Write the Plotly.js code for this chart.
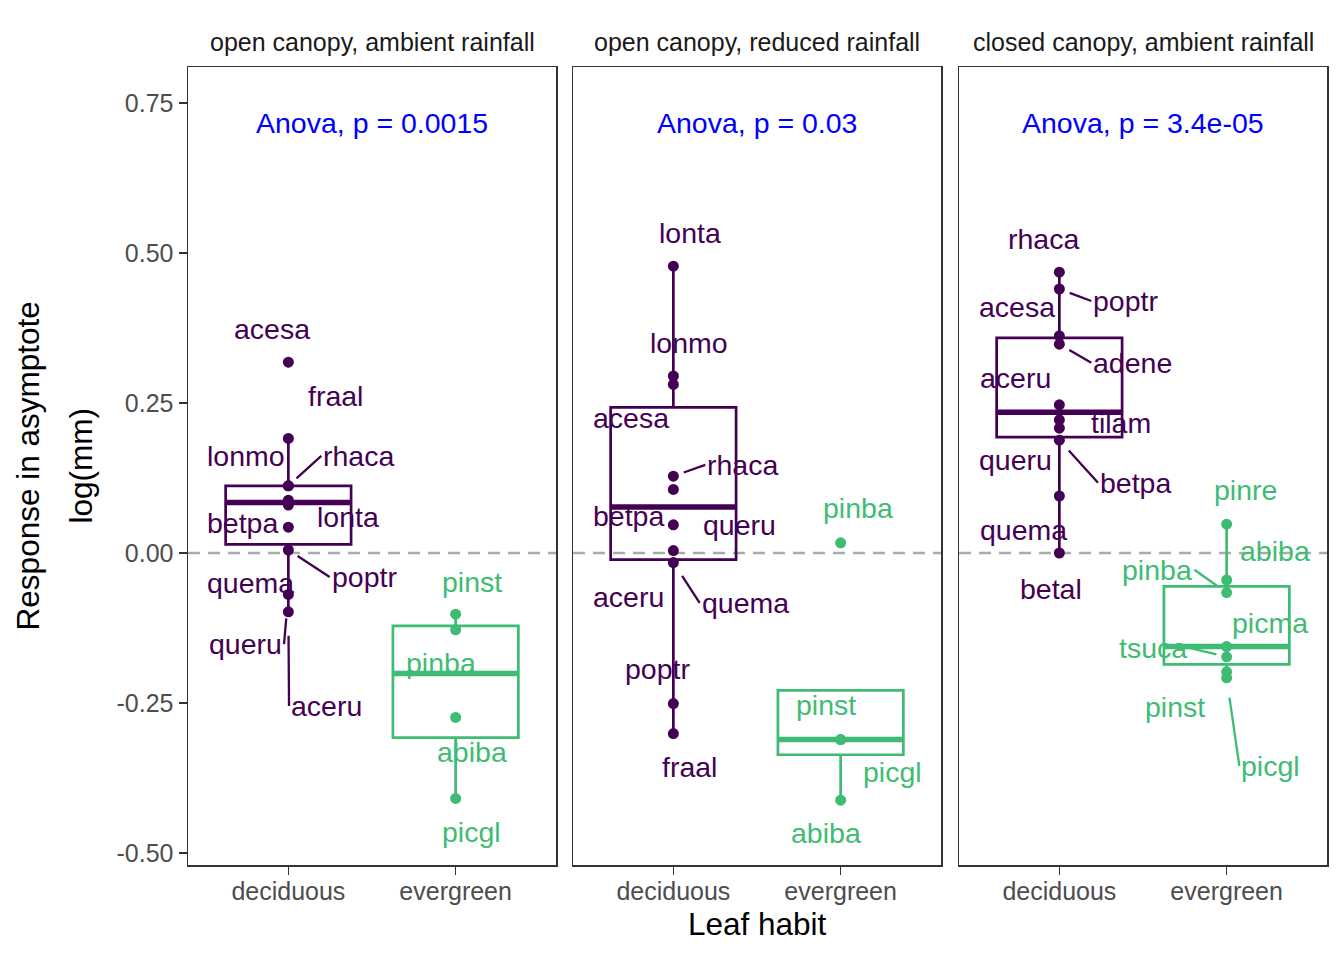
<!DOCTYPE html>
<html><head><meta charset="utf-8">
<script src="https://cdn.plot.ly/plotly-3.0.1.min.js"></script>
<style>html,body{margin:0;padding:0;background:#fff}</style>
</head><body><div id="chart" style="width:1344px;height:960px"></div>
<script>
// ---------------- data ----------------
const categories = ['deciduous', 'evergreen'];
const facets = ['open canopy, ambient rainfall', 'open canopy, reduced rainfall', 'closed canopy, ambient rainfall'];
const anovaLabels = ['Anova, p = 0.0015', 'Anova, p = 0.03', 'Anova, p = 3.4e-05'];
const yTickVals = [-0.5, -0.25, 0, 0.25, 0.5, 0.75];
const yTickText = ['-0.50', '-0.25', '0.00', '0.25', '0.50', '0.75'];

// facet 1: open canopy, ambient rainfall
const f1DecSpecies = ['acesa', 'fraal', 'lonmo', 'rhaca', 'lonta', 'betpa', 'quema', 'poptr', 'queru', 'aceru'];
const f1DecValues  = [0.318, 0.191, 0.112, 0.112, 0.088, 0.080, 0.043, 0.005, -0.069, -0.098];
const f1EvgSpecies = ['pinst', 'pinba', 'abiba', 'picgl'];
const f1EvgValues  = [-0.102, -0.128, -0.274, -0.409];

// facet 2: open canopy, reduced rainfall
const f2DecSpecies = ['lonta', 'lonmo', 'acesa', 'rhaca', 'queru', 'betpa', 'aceru', 'quema', 'poptr', 'fraal'];
const f2DecValues  = [0.478, 0.295, 0.281, 0.128, 0.106, 0.047, 0.004, -0.016, -0.251, -0.301];
const f2EvgSpecies = ['pinba', 'pinst', 'picgl', 'abiba'];
const f2EvgValues  = [0.017, -0.311, -0.311, -0.412];

// facet 3: closed canopy, ambient rainfall
const f3DecSpecies = ['rhaca', 'poptr', 'acesa', 'adene', 'aceru', 'tilam', 'queru', 'betpa', 'quema', 'betal'];
const f3DecValues  = [0.468, 0.440, 0.362, 0.348, 0.247, 0.222, 0.208, 0.188, 0.095, 0.000];
const f3EvgSpecies = ['pinre', 'abiba', 'pinba', 'picma', 'tsuca', 'pinst', 'picgl'];
const f3EvgValues  = [0.048, -0.045, -0.066, -0.156, -0.173, -0.198, -0.208];

// ---------------- label placement (repelled positions, data units) ----------------
// plain labels: [centre x, centre y]
// labels with a leader segment: [segment-start x, centre y, side of text ('left' = text to the right), standoff px]
const repel = [
  {
    deciduous: {acesa:[0.903,0.373], fraal:[1.284,0.262], lonmo:[0.749,0.162], rhaca:[1.197,0.162,'left',11],
                betpa:[0.723,0.050], lonta:[1.356,0.060], poptr:[1.247,-0.040,'left',11], quema:[0.773,-0.050],
                queru:[0.974,-0.152,'right',24], aceru:[1.004,-0.255,'left',24]},
    evergreen: {pinst:[2.100,-0.048], pinba:[1.912,-0.183], abiba:[2.098,-0.332], picgl:[2.094,-0.465]}
  },
  {
    deciduous: {lonta:[1.099,0.533], lonmo:[1.096,0.350], acesa:[0.749,0.225], rhaca:[1.191,0.147,'left',11],
                betpa:[0.731,0.062], queru:[1.393,0.047], aceru:[0.733,-0.073], quema:[1.157,-0.083,'left',16],
                poptr:[0.907,-0.193], fraal:[1.094,-0.357]},
    evergreen: {pinba:[2.104,0.075], pinst:[1.914,-0.253], picgl:[2.311,-0.365], abiba:[1.911,-0.467]}
  },
  {
    deciduous: {rhaca:[0.906,0.523], acesa:[0.749,0.410], poptr:[1.191,0.420,'left',11], adene:[1.191,0.317,'left',11.5],
                aceru:[0.736,0.292], tilam:[1.370,0.217], queru:[0.737,0.155], betpa:[1.231,0.117,'left',14],
                quema:[0.784,0.038], betal:[0.949,-0.060]},
    evergreen: {pinre:[2.110,0.105], abiba:[2.290,0.003], pinba:[1.807,-0.028,'right',11], picma:[2.260,-0.117],
                tsuca:[1.777,-0.158,'right',10.5], pinst:[1.694,-0.257], picgl:[2.076,-0.355,'left',20]}
  }
];

const panels = [
  {species: [f1DecSpecies, f1EvgSpecies], values: [f1DecValues, f1EvgValues]},
  {species: [f2DecSpecies, f2EvgSpecies], values: [f2DecValues, f2EvgValues]},
  {species: [f3DecSpecies, f3EvgSpecies], values: [f3DecValues, f3EvgValues]}
];

// ---------------- styles ----------------
const colors = ['#440154', '#3FBC73'];
const FONT = 'Liberation Sans, Arial, Helvetica, sans-serif';
const BORDER = '#333333';
const boxWidth = 0.75;

// type-7 quantile (as in R / ggplot2)
function quantile(sorted, p) {
  const h = (sorted.length - 1) * p;
  const lo = Math.floor(h), hi = Math.ceil(h);
  return sorted[lo] + (h - lo) * (sorted[hi] - sorted[lo]);
}
function boxStats(vals) {
  const s = vals.slice().sort((a, b) => a - b);
  const q1 = quantile(s, 0.25), med = quantile(s, 0.5), q3 = quantile(s, 0.75);
  const iqr = q3 - q1;
  const inside = s.filter(v => v >= q1 - 1.5 * iqr && v <= q3 + 1.5 * iqr);
  return {q1, med, q3, lo: Math.min(q1, inside[0]), hi: Math.max(q3, inside[inside.length - 1])};
}

const pw = 1139, ph = 798;
const domains = [[0, 368 / pw], [385 / pw, 753 / pw], [771 / pw, 1]];

const traces = [];
const annotations = [];
const shapes = [];
const layout = {
  width: 1344, height: 960, autosize: false,
  margin: {l: 188, r: 17, t: 67, b: 95},
  paper_bgcolor: '#ffffff', plot_bgcolor: '#ffffff',
  showlegend: false,
  font: {family: FONT},
  hovermode: false
};

panels.forEach((panel, k) => {
  const s = k === 0 ? '' : String(k + 1);
  const xa = 'x' + s, ya = 'y' + s;
  layout['xaxis' + s] = {
    domain: domains[k], range: [0.4, 2.6], anchor: ya,
    tickvals: [1, 2], ticktext: categories,
    showline: true, mirror: true, linecolor: BORDER, linewidth: 1.5,
    ticks: 'outside', ticklen: 8, tickcolor: BORDER, tickwidth: 1.5,
    ticklabelstandoff: -5,
    showgrid: false, zeroline: false,
    tickfont: {family: FONT, size: 25, color: '#4d4d4d'}
  };
  layout['yaxis' + s] = {
    domain: [0, 1], range: [-0.52, 0.81], anchor: xa,
    tickvals: yTickVals, ticktext: yTickText,
    showline: true, mirror: true, linecolor: BORDER, linewidth: 1.5,
    ticks: k === 0 ? 'outside' : '', ticklen: 8, tickcolor: BORDER, tickwidth: 1.5,
    showticklabels: k === 0,
    showgrid: false, zeroline: false,
    tickfont: {family: FONT, size: 25, color: '#4d4d4d'}
  };
  if (k > 0) layout['yaxis' + s].matches = 'y';

  shapes.push({type: 'line', xref: xa + ' domain', yref: ya, x0: 0, x1: 1, y0: 0, y1: 0,
               line: {color: '#aaaaaa', width: 2.5, dash: '12px,8px'}, layer: 'below'});

  panel.values.forEach((vals, c) => {
    const pos = c + 1;
    const st = boxStats(vals);
    traces.push({
      type: 'box', x: [pos], q1: [st.q1], median: [st.med], q3: [st.q3],
      lowerfence: [st.lo], upperfence: [st.hi], width: boxWidth, whiskerwidth: 0,
      line: {color: colors[c], width: 2.7}, fillcolor: 'rgba(0,0,0,0)',
      boxpoints: false, xaxis: xa, yaxis: ya, hoverinfo: 'skip'
    });
    traces.push({
      type: 'scatter', mode: 'lines', x: [pos - boxWidth / 2, pos + boxWidth / 2], y: [st.med, st.med],
      line: {color: colors[c], width: 5.5}, xaxis: xa, yaxis: ya, hoverinfo: 'skip'
    });
    traces.push({
      type: 'scatter', mode: 'markers', x: vals.map(() => pos), y: vals,
      marker: {color: colors[c], size: 11}, xaxis: xa, yaxis: ya, hoverinfo: 'skip'
    });
    const names = panel.species[c];
    const lay = repel[k][categories[c]];
    names.forEach((nm, i) => {
      const L = lay[nm];
      const base = {text: nm, font: {family: FONT, size: 28.5, color: colors[c]}, xref: xa, yref: ya};
      if (L.length > 2) {
        annotations.push(Object.assign(base, {
          x: pos, y: vals[i], ax: L[0], ay: L[1], axref: xa, ayref: ya,
          xanchor: L[2], yanchor: 'middle',
          showarrow: true, arrowhead: 0, arrowwidth: 2.3, arrowcolor: colors[c], standoff: L[3]
        }));
      } else {
        annotations.push(Object.assign(base, {x: L[0], y: L[1], showarrow: false,
                                              xanchor: 'center', yanchor: 'middle'}));
      }
    });
  });

  annotations.push({text: anovaLabels[k], xref: xa, yref: ya, x: 1.5, y: 0.717, showarrow: false,
                    xanchor: 'center', yanchor: 'middle',
                    font: {family: FONT, size: 28.5, color: '#0000ff'}});
  annotations.push({text: facets[k], xref: xa + ' domain', yref: 'paper', x: 0.5, y: (865 - 41.5) / ph,
                    xanchor: 'center', yanchor: 'middle',
                    showarrow: false, font: {family: FONT, size: 25, color: '#1a1a1a'}});
});

annotations.push({text: 'Leaf habit', xref: 'paper', yref: 'paper', x: 0.5, y: (865 - 924) / ph,
                  xanchor: 'center', yanchor: 'middle',
                  showarrow: false, font: {family: FONT, size: 31.5, color: '#000000'}});
annotations.push({text: 'Response in asymptote', xref: 'paper', yref: 'paper', x: (28.4 - 188) / pw, y: 0.5,
                  xanchor: 'center', yanchor: 'middle',
                  textangle: -90, showarrow: false, font: {family: FONT, size: 31.5, color: '#000000'}});
annotations.push({text: 'log(mm)', xref: 'paper', yref: 'paper', x: (80.5 - 188) / pw, y: 0.5,
                  xanchor: 'center', yanchor: 'middle',
                  textangle: -90, showarrow: false, font: {family: FONT, size: 31.5, color: '#000000'}});

layout.annotations = annotations;
layout.shapes = shapes;

Plotly.newPlot('chart', traces, layout, {displayModeBar: false, staticPlot: true});
</script>
</body></html>
